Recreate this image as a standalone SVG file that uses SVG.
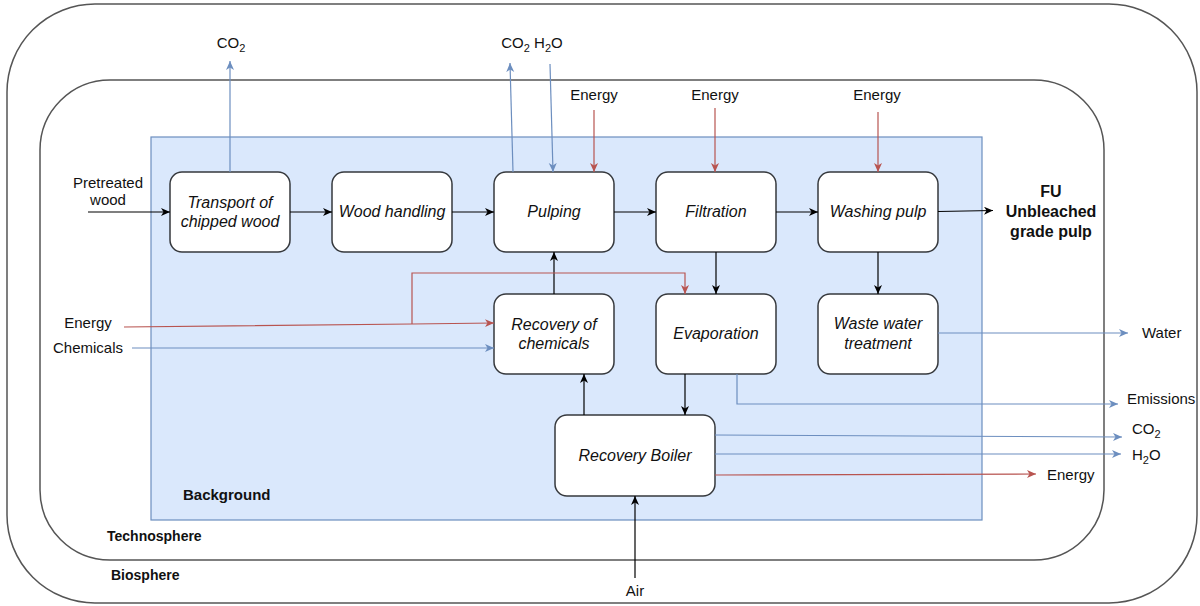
<svg xmlns="http://www.w3.org/2000/svg" width="1200" height="606" viewBox="0 0 1200 606">
  <defs>
    <marker id="arrK" markerUnits="userSpaceOnUse" markerWidth="10" markerHeight="10" refX="9" refY="4" orient="auto">
      <path d="M0,0 L9,4 L0,8 L2.5,4 z" fill="#000"/>
    </marker>
    <marker id="arrB" markerUnits="userSpaceOnUse" markerWidth="10" markerHeight="10" refX="9" refY="4" orient="auto">
      <path d="M0,0 L9,4 L0,8 L2.5,4 z" fill="#6c8ebf"/>
    </marker>
    <marker id="arrR" markerUnits="userSpaceOnUse" markerWidth="10" markerHeight="10" refX="9" refY="4" orient="auto">
      <path d="M0,0 L9,4 L0,8 L2.5,4 z" fill="#b85450"/>
    </marker>
  </defs>
  <style>
    text { font-family: "Liberation Sans", Arial, sans-serif; fill: #111; }
    .lbl { font-size: 15px; }
    .node rect { fill: #fff; stroke: #36393d; stroke-width: 1.5; }
    .node text { font-size: 16px; font-style: italic; text-anchor: middle; }
    .bold { font-weight: bold; }
    .sub { font-size: 11px; }
    .k { stroke: #000; stroke-width: 1.2; fill: none; marker-end: url(#arrK); }
    .b { stroke: #6c8ebf; stroke-width: 1.2; fill: none; marker-end: url(#arrB); }
    .r { stroke: #b85450; stroke-width: 1.2; fill: none; marker-end: url(#arrR); }
  </style>

  <rect width="1200" height="606" fill="#fff"/>

  <!-- system boundaries -->
  <g id="biosphere">
    <rect x="7" y="4" width="1190" height="599" rx="88" ry="88" fill="none" stroke="#555" stroke-width="1.5"/>
    <text x="111" y="580" class="bold" font-size="14">Biosphere</text>
  </g>
  <g id="technosphere">
    <rect x="40" y="80" width="1064" height="480" rx="70" ry="70" fill="none" stroke="#555" stroke-width="1.5"/>
    <text x="107" y="541" class="bold" font-size="14">Technosphere</text>
  </g>
  <g id="background">
    <rect x="151" y="137" width="831" height="383" fill="#dae8fc" stroke="#6c8ebf" stroke-width="1.2"/>
    <text x="183" y="500" class="bold" font-size="15">Background</text>
  </g>

  <!-- process nodes -->
  <g id="transport" class="node">
    <rect x="170" y="172" width="120" height="80" rx="12"/>
    <text x="230" y="208">Transport of</text>
    <text x="230" y="227">chipped wood</text>
  </g>
  <g id="wood-handling" class="node">
    <rect x="332" y="172" width="120" height="80" rx="12"/>
    <text x="392" y="217">Wood handling</text>
  </g>
  <g id="pulping" class="node">
    <rect x="494" y="172" width="120" height="80" rx="12"/>
    <text x="554" y="217">Pulping</text>
  </g>
  <g id="filtration" class="node">
    <rect x="656" y="172" width="120" height="80" rx="12"/>
    <text x="716" y="217">Filtration</text>
  </g>
  <g id="washing" class="node">
    <rect x="818" y="172" width="120" height="80" rx="12"/>
    <text x="878" y="217">Washing pulp</text>
  </g>
  <g id="recovery-chemicals" class="node">
    <rect x="494" y="294" width="120" height="80" rx="12"/>
    <text x="554" y="330">Recovery of</text>
    <text x="554" y="349">chemicals</text>
  </g>
  <g id="evaporation" class="node">
    <rect x="656" y="294" width="120" height="80" rx="12"/>
    <text x="716" y="339">Evaporation</text>
  </g>
  <g id="waste-water" class="node">
    <rect x="818" y="294" width="120" height="80" rx="12"/>
    <text x="878" y="329">Waste water</text>
    <text x="878" y="349">treatment</text>
  </g>
  <g id="recovery-boiler" class="node">
    <rect x="555" y="415" width="160" height="81" rx="12"/>
    <text x="635" y="461">Recovery Boiler</text>
  </g>

  <!-- connectors -->
  <g id="connectors">
    <!-- main line -->
    <path class="k" d="M88,212 L170,212"/>
    <path class="k" d="M290,212 L332,212"/>
    <path class="k" d="M452,212 L494,212"/>
    <path class="k" d="M614,212 L656,212"/>
    <path class="k" d="M776,212 L818,212"/>
    <path class="k" d="M938,211.5 L993,210.5"/>
    <path class="k" d="M716,252 L716,294"/>
    <path class="k" d="M878,252 L878,294"/>
    <path class="k" d="M554,294 L554,252"/>
    <path class="k" d="M685,374 L685,415"/>
    <path class="k" d="M584,415 L584,374"/>
    <path class="k" d="M635,578 L635,496"/>
    <!-- air / water emissions -->
    <path class="b" d="M230,172 L230,61"/>
    <path class="b" d="M513,172 L510,63"/>
    <path class="b" d="M550,64 L553,172"/>
    <path class="b" d="M132,348 L494,348"/>
    <path class="b" d="M938,333 L1128,333"/>
    <path class="b" d="M737,374 L737,404 L1118,404"/>
    <path class="b" d="M715,435 L1122,437"/>
    <path class="b" d="M715,454 L1121,454"/>
    <!-- energy flows -->
    <path class="r" d="M594,110 L594,172"/>
    <path class="r" d="M715,108 L715,172"/>
    <path class="r" d="M878,112 L878,172"/>
    <path class="r" d="M124,327 L412,324 L494,323"/>
    <path class="r" d="M412,324 L412,273 L685,273 L685,294"/>
    <path class="r" d="M715,475 L1036,474"/>
  </g>

  <!-- flow labels -->
  <g id="labels">
    <text class="lbl" x="108" y="188" text-anchor="middle">Pretreated</text>
    <text class="lbl" x="108" y="205" text-anchor="middle">wood</text>
    <text class="lbl" x="88" y="328" text-anchor="middle">Energy</text>
    <text class="lbl" x="88" y="353" text-anchor="middle">Chemicals</text>
    <text class="lbl" x="231" y="48" text-anchor="middle">CO<tspan class="sub" dy="4">2</tspan></text>
    <text class="lbl" x="532" y="48" text-anchor="middle">CO<tspan class="sub" dy="4">2</tspan><tspan dy="-4"> H</tspan><tspan class="sub" dy="4">2</tspan><tspan dy="-4">O</tspan></text>
    <text class="lbl" x="594" y="100" text-anchor="middle">Energy</text>
    <text class="lbl" x="715" y="100" text-anchor="middle">Energy</text>
    <text class="lbl" x="877" y="100" text-anchor="middle">Energy</text>
    <text class="bold" font-size="16" x="1051" y="197" text-anchor="middle">FU</text>
    <text class="bold" font-size="16" x="1051" y="217" text-anchor="middle">Unbleached</text>
    <text class="bold" font-size="16" x="1051" y="237" text-anchor="middle">grade pulp</text>
    <text class="lbl" x="1142" y="338">Water</text>
    <text class="lbl" x="1127" y="404">Emissions</text>
    <text class="lbl" x="1132" y="434">CO<tspan class="sub" dy="4">2</tspan></text>
    <text class="lbl" x="1132" y="460">H<tspan class="sub" dy="4">2</tspan><tspan dy="-4">O</tspan></text>
    <text class="lbl" x="1047" y="480">Energy</text>
    <text class="lbl" x="635" y="596" text-anchor="middle">Air</text>
  </g>
</svg>
